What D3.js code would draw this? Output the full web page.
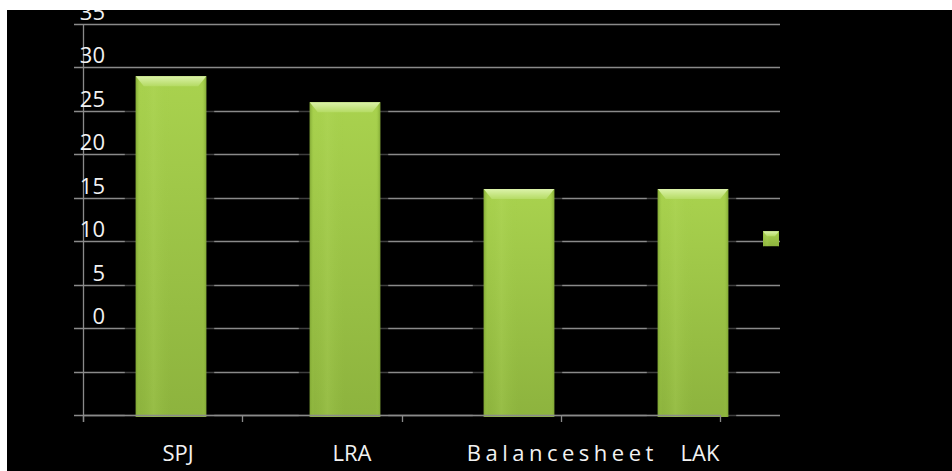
<!DOCTYPE html>
<html>
<head>
<meta charset="utf-8">
<script src="https://cdn.jsdelivr.net/npm/d3@7"></script>
<style>
  html, body { margin: 0; padding: 0; background: #fff; }
  svg { display: block; }
  text { font-family: "Open Sans", "Noto Sans", sans-serif; }
</style>
</head>
<body>
<script>
// ---- data ----
const categories = ["SPJ", "LRA", "Balancesheet", "LAK"];
const values = [29, 26, 16, 16];
const tickValues = [-10, -5, 0, 5, 10, 15, 20, 25, 30, 35];
const tickLabels = ["", "", "0", "5", "10", "15", "20", "25", "30", "35"];

const W = 952, H = 471;
const svg = d3.select("body").append("svg").attr("width", W).attr("height", H);
const defs = svg.append("defs");

// gradients
const gBody = defs.append("linearGradient").attr("id", "gBody").attr("x1", 0).attr("y1", 0).attr("x2", 0).attr("y2", 1);
gBody.append("stop").attr("offset", 0).attr("stop-color", "#a9d24e");
gBody.append("stop").attr("offset", 1).attr("stop-color", "#8db33e");
const gSide = defs.append("linearGradient").attr("id", "gSide").attr("x1", 0).attr("y1", 0).attr("x2", 1).attr("y2", 0);
gSide.append("stop").attr("offset", 0).attr("stop-color", "#7fa533").attr("stop-opacity", 0.9);
gSide.append("stop").attr("offset", 0.06).attr("stop-color", "#9cc845").attr("stop-opacity", 0.0);
gSide.append("stop").attr("offset", 0.25).attr("stop-color", "#b6dc62").attr("stop-opacity", 0.25);
gSide.append("stop").attr("offset", 0.5).attr("stop-color", "#9cc845").attr("stop-opacity", 0.0);
gSide.append("stop").attr("offset", 0.94).attr("stop-color", "#9cc845").attr("stop-opacity", 0.0);
gSide.append("stop").attr("offset", 1).attr("stop-color", "#7fa533").attr("stop-opacity", 0.9);
const gTop = defs.append("linearGradient").attr("id", "gTop").attr("x1", 0).attr("y1", 0).attr("x2", 0).attr("y2", 1);
gTop.append("stop").attr("offset", 0).attr("stop-color", "#dcf3aa");
gTop.append("stop").attr("offset", 1).attr("stop-color", "#b5db64");

defs.append("clipPath").attr("id", "plotClip")
  .append("rect").attr("x", 7).attr("y", 10).attr("width", W - 7).attr("height", H - 10);

// background
svg.append("rect").attr("width", W).attr("height", H).attr("fill", "#fff");
const g = svg.append("g").attr("clip-path", "url(#plotClip)");
g.append("rect").attr("x", 7).attr("y", 10).attr("width", W - 7).attr("height", H - 10).attr("fill", "#000");

// scales
const y = d3.scaleLinear().domain([-10, 35]).range([415, 24]);
const xBar = d3.scaleBand().domain(categories).range([84, 780]).paddingInner(0.595).paddingOuter(0.2975);
const xAxisScale = d3.scaleBand().domain(categories).range([83, 720]);
const axisLeft = 83;
const gridRight = 780;
const grey = "#8a8a8a";

// gridlines
g.append("g").selectAll("line").data(tickValues).join("line")
  .attr("x1", axisLeft - 9).attr("x2", gridRight)
  .attr("y1", d => Math.round(y(d)) + 0.5).attr("y2", d => Math.round(y(d)) + 0.5)
  .attr("stroke", grey).attr("stroke-width", 1.3);

// bar shadows (darken gridlines next to the bars)
g.append("g").selectAll("rect").data(categories).join("rect")
  .attr("x", d => xBar(d) - 11).attr("width", xBar.bandwidth() + 19)
  .attr("y", (d, i) => y(values[i]) - 2).attr("height", (d, i) => y(-10) - y(values[i]) + 4)
  .attr("fill", "#000").attr("opacity", 0.55);

// bars
const bars = g.append("g").selectAll("g").data(categories).join("g");
bars.append("rect")
  .attr("x", d => xBar(d)).attr("width", xBar.bandwidth())
  .attr("y", (d, i) => y(values[i])).attr("height", (d, i) => y(-10) - y(values[i]) + 2)
  .attr("fill", "url(#gBody)");
bars.append("rect")
  .attr("x", d => xBar(d)).attr("width", xBar.bandwidth())
  .attr("y", (d, i) => y(values[i])).attr("height", (d, i) => y(-10) - y(values[i]) + 2)
  .attr("fill", "url(#gSide)");
bars.append("path")
  .attr("d", (d, i) => {
    const x0 = xBar(d), x1 = x0 + xBar.bandwidth(), t = y(values[i]);
    return `M${x0},${t}L${x1},${t}L${x1 - 8},${t + 10}L${x0 + 8},${t + 10}Z`;
  })
  .attr("fill", "url(#gTop)");

// y axis line
g.append("line").attr("x1", axisLeft + 0.5).attr("x2", axisLeft + 0.5)
  .attr("y1", y(35)).attr("y2", y(-10) + 7).attr("stroke", grey).attr("stroke-width", 1.3);

// x axis line + ticks (between categories)
const xTicks = categories.map(c => xAxisScale(c)).concat([xAxisScale.range()[1]]);
g.append("line").attr("x1", axisLeft).attr("x2", xAxisScale.range()[1])
  .attr("y1", Math.round(y(-10)) + 0.5).attr("y2", Math.round(y(-10)) + 0.5)
  .attr("stroke", grey).attr("stroke-width", 1.3);
g.append("g").selectAll("line").data(xTicks).join("line")
  .attr("x1", d => Math.round(d) + 0.5).attr("x2", d => Math.round(d) + 0.5)
  .attr("y1", y(-10)).attr("y2", y(-10) + 7).attr("stroke", grey).attr("stroke-width", 1.3);

// y labels (sit just above their gridline)
g.append("g").selectAll("text").data(tickValues).join("text")
  .attr("x", 105).attr("y", d => y(d) - 4)
  .attr("text-anchor", "end").attr("font-size", 22).attr("fill", "#f2f2f2")
  .text((d, i) => tickLabels[i]);

// category labels
g.append("g").selectAll("text").data(categories).join("text")
  .attr("x", d => d.length > 6 ? xBar(d) - 17 : xBar(d) + xBar.bandwidth() / 2 + 7)
  .attr("y", 461)
  .attr("text-anchor", d => d.length > 6 ? "start" : "middle")
  .attr("letter-spacing", d => d.length > 6 ? 4.5 : 0)
  .attr("font-size", 22).attr("fill", "#f2f2f2")
  .text(d => d);

// legend key (no label)
const lg = g.append("g").attr("transform", `translate(${gridRight - 17},${y(10) - 10})`);
lg.append("rect").attr("width", 16).attr("height", 15).attr("fill", "url(#gBody)");
lg.append("rect").attr("width", 16).attr("height", 15).attr("fill", "url(#gSide)");
lg.append("path").attr("d", "M0,0L16,0L12,5L4,5Z").attr("fill", "url(#gTop)");
</script>
</body>
</html>
